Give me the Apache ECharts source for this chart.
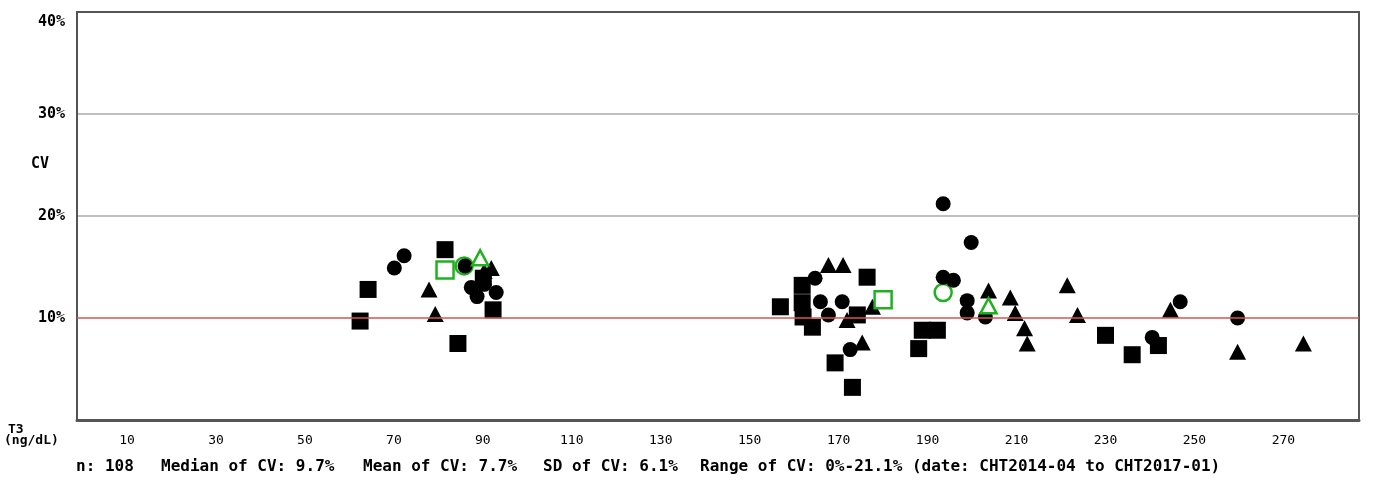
<!DOCTYPE html>
<html>
<head>
<meta charset="utf-8">
<script src="https://cdn.jsdelivr.net/npm/echarts@6/dist/echarts.min.js"></script>
<style>
html,body{margin:0;padding:0;background:#fff;}
#chart{width:1373px;height:485px;}
</style>
</head>
<body>
<div id="chart"></div>
<script>
// T3 (ng/dL) vs CV (%)
const xTicks = [10, 30, 50, 70, 90, 110, 130, 150, 170, 190, 210, 230, 250, 270];
const yTicks = [10, 20, 30, 40];
const refLine = 10;

const squares = [[62.4,9.7],[64.2,12.8],[81.5,16.7],[84.4,7.5],[92.3,10.8],[90.1,13.9],
  [156.9,11.1],[161.8,13.2],[176.4,14.0],[161.8,11.5],[162.0,10.1],[164.1,9.1],[174.2,10.3],
  [169.2,5.6],[173.1,3.2],[188.8,8.8],[192.2,8.8],[188.0,7.0],[230.0,8.3],[236.0,6.4],[241.9,7.3]];
const circles = [[70.1,14.9],[72.3,16.1],[86.0,15.1],[87.4,13.0],[88.7,12.1],[90.3,13.3],[93.0,12.5],
  [164.7,13.9],[165.9,11.6],[170.8,11.6],[167.7,10.3],[172.6,6.9],[193.5,21.2],[199.8,17.4],
  [193.5,14.0],[195.8,13.7],[198.9,11.7],[198.9,10.5],[203.0,10.1],[240.5,8.1],[246.8,11.6],[259.7,10.0]];
const triangles = [[77.9,12.8],[79.3,10.4],[90.3,14.6],[91.9,14.9],[167.7,15.2],[171.0,15.2],
  [171.9,9.8],[177.6,11.1],[175.3,7.6],[203.7,12.7],[208.6,12.0],[209.7,10.5],[211.8,9.0],
  [212.4,7.5],[221.4,13.2],[223.7,10.3],[244.6,10.8],[259.7,6.7],[274.5,7.5]];
const meanSquares = [[81.5,14.7],[180.0,11.8]];
const meanCircles = [[85.8,15.1],[193.5,12.5]];
const meanTriangles = [[89.4,15.9],[203.7,11.2]];

const footer = [
  ['n: 108', 76],
  ['Median of CV: 9.7%', 161],
  ['Mean of CV: 7.7%', 363],
  ['SD of CV: 6.1%', 543],
  ['Range of CV: 0%-21.1% (date: CHT2014-04 to CHT2017-01)', 700]
];

const mono = '"DejaVu Sans Mono", "Liberation Mono", monospace';
const green = '#1fb21f';

const chart = echarts.init(document.getElementById('chart'), null, {renderer:'canvas'});
const graphics = [
  {type:'text', left:31, top:157, style:{text:'CV', font:'bold 15px ' + mono, fill:'#000'}},
  {type:'text', left:8, top:423, style:{text:'T3', font:'bold 13px ' + mono, fill:'#000'}},
  {type:'text', left:4, top:434, style:{text:'(ng/dL)', font:'bold 13px ' + mono, fill:'#000'}}
];
footer.forEach(f => graphics.push({type:'text', left:f[1], top:459,
  style:{text:f[0], font:'bold 16px ' + mono, fill:'#000'}}));

chart.setOption({
  animation:false,
  backgroundColor:'#fff',
  grid:{left:77, right:14, top:12, bottom:65, show:true, borderColor:'#555', borderWidth:2, backgroundColor:'#fff'},
  xAxis:{
    type:'value', min:-1.25, max:287,
    axisLine:{show:true, onZero:false, lineStyle:{color:'#555', width:3}},
    axisTick:{show:false},
    splitLine:{show:false},
    axisLabel:{customValues:xTicks, margin:14, color:'#000', fontFamily:mono, fontSize:13}
  },
  yAxis:{
    type:'value', min:0, max:40, interval:10,
    axisLine:{show:true, onZero:false, lineStyle:{color:'#555', width:2}},
    axisTick:{show:false},
    splitLine:{show:true, lineStyle:{color:['rgba(0,0,0,0)','rgba(0,0,0,0)','#aaa','#aaa','rgba(0,0,0,0)'], width:1.5}},
    axisLabel:{customValues:yTicks, margin:12, color:'#000', fontFamily:mono, fontWeight:'bold', fontSize:15,
      formatter: v => v === 40 ? '{t|' + v + '%}' : v + '%',
      rich:{t:{padding:[20,0,0,0], fontFamily:mono, fontWeight:'bold', fontSize:15, color:'#000'}}}
  },
  graphic:graphics,
  series:[
    {type:'scatter', data:[], markLine:{silent:true, symbol:'none', label:{show:false},
      lineStyle:{color:'#d9534f', width:1.5, type:'solid'}, data:[{yAxis:refLine}]}},
    {type:'scatter', data:meanCircles, symbol:'circle', symbolSize:17, z:3,
      itemStyle:{color:'rgba(0,0,0,0)', borderColor:green, borderWidth:2.5, opacity:1}},
    {type:'scatter', data:squares, symbol:'rect', symbolSize:17, z:4, itemStyle:{color:'#000', opacity:1}},
    {type:'scatter', data:circles, symbol:'circle', symbolSize:15, z:4, itemStyle:{color:'#000', opacity:1}},
    {type:'scatter', data:triangles, symbol:'triangle', symbolSize:[17,16], z:4, itemStyle:{color:'#000', opacity:1}},
    {type:'scatter', data:meanSquares, symbol:'rect', symbolSize:17, z:5,
      itemStyle:{color:'#fff', borderColor:green, borderWidth:2.5, opacity:1}},
    {type:'scatter', data:meanTriangles, symbol:'triangle', symbolSize:[16,15], z:5,
      itemStyle:{color:'#fff', borderColor:green, borderWidth:2.5, opacity:1}}
  ]
});
</script>
</body>
</html>
